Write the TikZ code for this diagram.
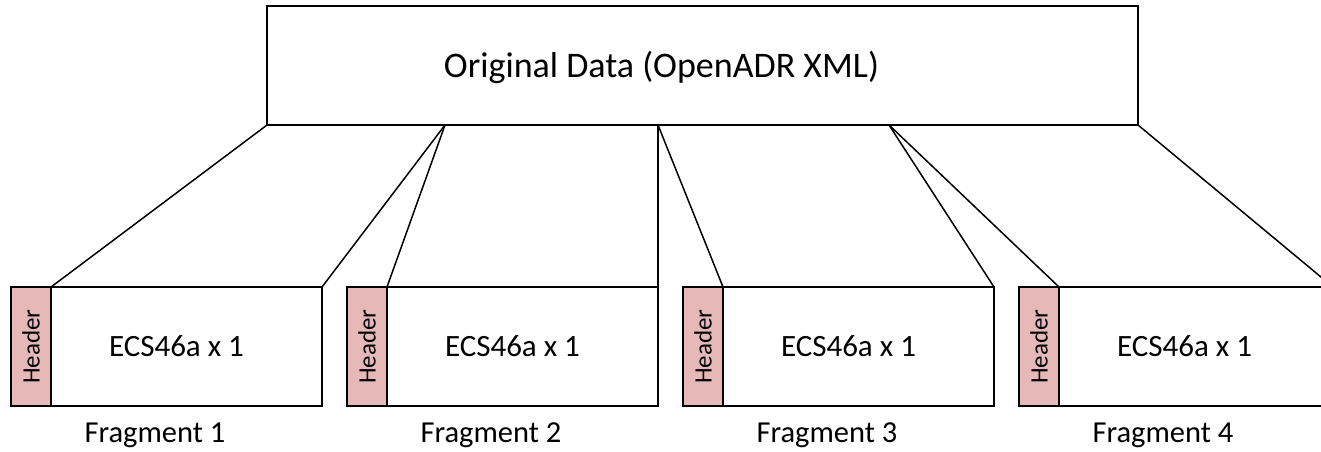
\documentclass[tikz,border=0pt]{standalone}
\usepackage{fontspec}
\setmainfont{Carlito}
\usetikzlibrary{positioning}
\definecolor{headerpink}{HTML}{E6B9B8}
\tikzset{
  box/.style={draw, line width=1.6pt, fill=white, minimum height=119pt, inner sep=0pt, outer sep=0pt},
  hdr/.style={box, fill=headerpink, minimum width=40pt, font=\fontsize{25}{30}\selectfont},
  payload/.style={box, minimum width=271pt},
  link/.style={line width=1.5pt},
}
\begin{document}
\begin{tikzpicture}[x=1pt, y=-1pt]
    \clip (0,0) rectangle (1321,451);

    \node[box, minimum width=871pt,
          label={[xshift=-41pt, yshift=-2pt, font=\fontsize{36}{43}\selectfont]center:Original Data (OpenADR XML)}]
          (orig) at (702.5,65.5) {};

    \foreach \i/\x in {1/11, 2/347, 3/683, 4/1019} {
        \node[hdr, anchor=north west] (h\i) at (\x,287) {\rotatebox{90}{Header}};
        \node[payload, right=0pt of h\i,
              label={[xshift=-10pt, font=\fontsize{31}{37}\selectfont]center:ECS46a x 1}] (d\i) {};
        \node[font=\fontsize{30.5}{36}\selectfont, below=13pt of d\i.south west, xshift=104pt] (f\i) {Fragment \i};
    }

    % split points on the bottom of the original box
    \coordinate (split1) at (445,125);
    \coordinate (split2) at (orig.south -| d2.north east);
    \coordinate (split3) at (889,125);

    \draw[link] (orig.south west) -- (d1.north west);
    \draw[link] (split1) -- (d1.north east);
    \draw[link] (split1) -- (d2.north west);
    \draw[link] (split2) -- (d2.north east);
    \draw[link] (split2) -- (d3.north west);
    \draw[link] (split3) -- (d3.north east);
    \draw[link] (split3) -- (d4.north west);
    \draw[link] (orig.south east) -- ([xshift=3pt]d4.north east);
\end{tikzpicture}
\end{document}
